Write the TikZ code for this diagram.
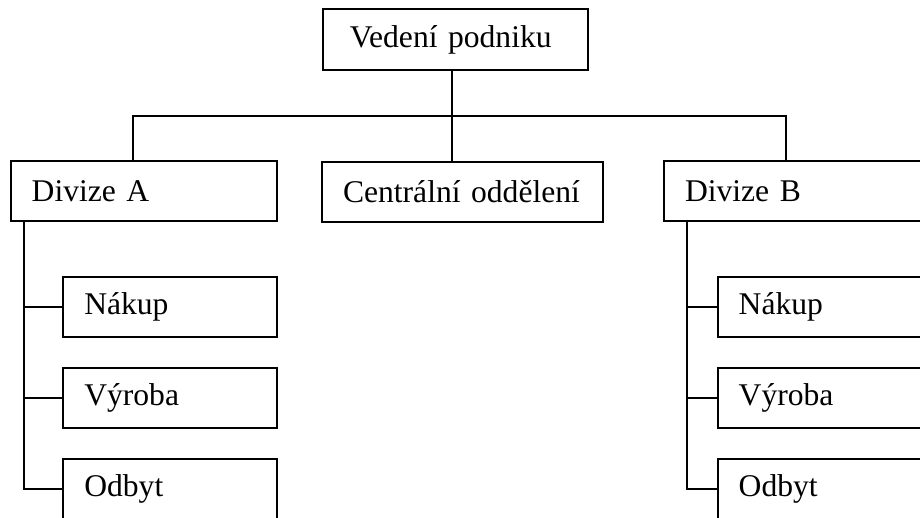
\documentclass[tikz,border=0pt]{standalone}
\usepackage{fontspec}
\setmainfont{Liberation Serif}
\usetikzlibrary{positioning}

\tikzset{
  unit/.style={draw, line width=2pt, inner xsep=21pt, inner ysep=0pt,
    align=left, minimum height=60pt, font=\fontsize{31.6}{36}\selectfont},
  wideunit/.style={unit, text width=224pt},
  subunit/.style={unit, text width=171.4pt},
  link/.style={line width=2pt}
}

\begin{document}
\begin{tikzpicture}[x=1pt, y=-1pt]
\clip (0,0) rectangle (920,517);
% top
\node[unit, text width=211pt, inner xsep=27pt, minimum height=60.7pt] (vedeni) at (455.3,39.7) {Vedení podniku};
% second level
\node[wideunit] (divA) at (143.7,191) {Divize A};
\node[unit, text width=239pt] (central) at (462.5,191.5) {Centrální oddělení};
\node[wideunit] (divB) at (797,191) {Divize B};
% sub units
\node[subunit] (nakA) at (170,307) {Nákup};
\node[subunit] (vyrA) at (170,398) {Výroba};
\node[subunit] (odbA) at (170,489) {Odbyt};
\node[subunit] (nakB) at (824.4,307) {Nákup};
\node[subunit] (vyrB) at (824.4,398) {Výroba};
\node[subunit] (odbB) at (824.4,489) {Odbyt};
% bus
\coordinate (trunk) at (452,116);
\coordinate (busL) at (133,116);
\coordinate (busR) at (786,116);
\coordinate (railA) at (24,0);
\coordinate (railB) at (687,0);
\draw[link] (trunk |- vedeni.south) -- (trunk) -- (trunk |- central.north);
\draw[link] (busL |- divA.north) -- (busL) -- (busR) -- (busR |- divB.north);
\draw[link] (railA |- divA.south) -- (railA |- odbA.west) -- (odbA.west);
\draw[link] (railB |- divB.south) -- (railB |- odbB.west) -- (odbB.west);
\foreach \n in {nakA,vyrA} \draw[link] (\n.west) -- (\n.west -| railA);
\foreach \n in {nakB,vyrB} \draw[link] (\n.west) -- (\n.west -| railB);
\end{tikzpicture}
\end{document}
